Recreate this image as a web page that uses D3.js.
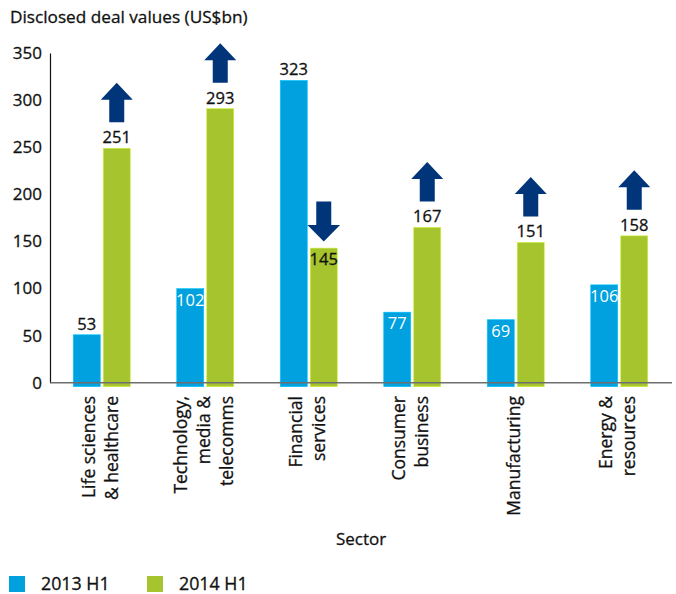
<!DOCTYPE html>
<html>
<head>
<meta charset="utf-8">
<script src="https://cdn.jsdelivr.net/npm/d3@7"></script>
<style>
  html, body { margin: 0; padding: 0; background: #fff; }
  svg { display: block; font-family: "Open Sans", sans-serif; }
  svg text { stroke-width: 0.3px; }
</style>
</head>
<body>
<svg id="chart" width="676" height="594"></svg>
<script>
// ---- data ----
const categories = [
  ["Life sciences", "& healthcare"],
  ["Technology,", "media &", "telecomms"],
  ["Financial", "services"],
  ["Consumer", "business"],
  ["Manufacturing"],
  ["Energy &", "resources"]
];
const seriesNames = ["2013 H1", "2014 H1"];
const values2013 = [53, 102, 323, 77, 69, 106];
const values2014 = [251, 293, 145, 167, 151, 158];
const yTicks = [0, 50, 100, 150, 200, 250, 300, 350];
const titleText = "Disclosed deal values (US$bn)";
const xAxisTitle = "Sector";

// ---- styles ----
const colors = { "2013 H1": "#00A1DE", "2014 H1": "#A6C42E" };
const arrowColor = "#00357A";
const textColor = "#111111";
const whiteLabelBars = new Set(["0-1", "0-3", "0-4", "0-5"]); // series-category with label inside bar (white)
const darkInsideLabels = new Set(["1-2"]);

const svg = d3.select("#chart");

const catKeys = categories.map(c => c.join(" "));
const x0 = d3.scaleBand().domain(catKeys).range([50, 671]).padding(0);
const x1 = d3.scaleBand().domain(seriesNames).range([-28.5, 28.5]).paddingInner(0.1);
const y = d3.scaleLinear().domain([0, 350]).range([382.7, 53]);

// title
svg.append("text").attr("x", 10).attr("y", 23)
  .attr("font-size", 17.2).attr("fill", textColor).attr("stroke", textColor).text(titleText);

// y axis
const yAxis = d3.axisLeft(y).tickValues(yTicks).tickSize(0).tickPadding(8);
const gy = svg.append("g").attr("transform", "translate(50,0)").call(yAxis);
gy.select(".domain").attr("stroke", "#111").attr("stroke-width", 1.2);
gy.selectAll("text").attr("font-size", 17).attr("font-family", "Open Sans, sans-serif")
  .attr("fill", textColor).attr("stroke", textColor);

// bars
const seriesData = [values2013, values2014];
seriesData.forEach((vals, si) => {
  const name = seriesNames[si];
  svg.append("g").selectAll("rect").data(vals).join("rect")
    .attr("x", (d, i) => x0(catKeys[i]) + x0.bandwidth() / 2 + x1(name))
    .attr("width", x1.bandwidth())
    .attr("y", d => y(d) + 2)
    .attr("height", d => y(0) + 2 - y(d))
    .attr("fill", colors[name])
    .attr("stroke", d3.color(colors[name]).brighter(0.6))
    .attr("stroke-width", 0.6);
});

// x axis line
svg.append("line").attr("x1", 50).attr("x2", 672).attr("y1", y(0)).attr("y2", y(0))
  .attr("stroke", "#6e6e6e").attr("stroke-width", 1.6);

// value labels
seriesData.forEach((vals, si) => {
  const name = seriesNames[si];
  svg.append("g").selectAll("text").data(vals).join("text")
    .attr("x", (d, i) => x0(catKeys[i]) + x0.bandwidth() / 2 + x1(name) + x1.bandwidth() / 2)
    .attr("y", (d, i) => {
      const k = si + "-" + i;
      if (whiteLabelBars.has(k) || darkInsideLabels.has(k)) return y(d) + 19;
      return y(d) - 3;
    })
    .attr("text-anchor", "middle")
    .attr("font-size", 16.5)
    .attr("fill", (d, i) => whiteLabelBars.has(si + "-" + i) ? "#ffffff" : textColor)
    .attr("stroke", (d, i) => whiteLabelBars.has(si + "-" + i) ? "none" : textColor)
    .text(d => d);
});

// arrows (direction from 2013 -> 2014 change)
const arrowG = svg.append("g");
values2014.forEach((v, i) => {
  const cx = x0(catKeys[i]) + x0.bandwidth() / 2 + x1("2014 H1") + x1.bandwidth() / 2;
  const top = y(v) + 2;
  const up = v > values2013[i];
  let pts;
  if (up) {
    const yb = top - 26;
    pts = [[cx - 7.5, yb], [cx - 7.5, yb - 22.5], [cx - 16, yb - 22.5], [cx, yb - 39.5],
           [cx + 16, yb - 22.5], [cx + 7.5, yb - 22.5], [cx + 7.5, yb]];
  } else {
    const tip = top - 6.5;
    pts = [[cx - 7.5, tip - 40], [cx - 7.5, tip - 16.5], [cx - 16.3, tip - 16.5], [cx, tip],
           [cx + 16.3, tip - 16.5], [cx + 7.5, tip - 16.5], [cx + 7.5, tip - 40]];
  }
  arrowG.append("path").attr("d", d3.line()(pts) + "Z").attr("fill", arrowColor);
});

// category labels (rotated)
const catG = svg.append("g");
categories.forEach((lines, i) => {
  const cx = x0(catKeys[i]) + x0.bandwidth() / 2;
  const lh = 23;
  const t = catG.append("text")
    .attr("transform", `translate(${cx},396) rotate(-90)`)
    .attr("text-anchor", "end")
    .attr("font-size", 17.5)
    .attr("fill", textColor).attr("stroke", textColor);
  lines.forEach((ln, j) => {
    t.append("tspan").attr("x", 0)
      .attr("y", (j - (lines.length - 1) / 2) * lh - 1.5)
      .attr("dy", "0.35em")
      .text(ln);
  });
});

// x axis title
svg.append("text").attr("x", 361).attr("y", 545).attr("text-anchor", "middle")
  .attr("font-size", 17).attr("fill", textColor).attr("stroke", textColor).text(xAxisTitle);

// legend
const legX = [9, 147];
seriesNames.forEach((name, i) => {
  svg.append("rect").attr("x", legX[i]).attr("y", 576).attr("width", 16).attr("height", 16)
    .attr("fill", colors[name]);
  svg.append("text").attr("x", legX[i] + 32).attr("y", 589.5)
    .attr("font-size", 17.8).attr("fill", textColor).attr("stroke", textColor).text(name);
});
</script>
</body>
</html>
